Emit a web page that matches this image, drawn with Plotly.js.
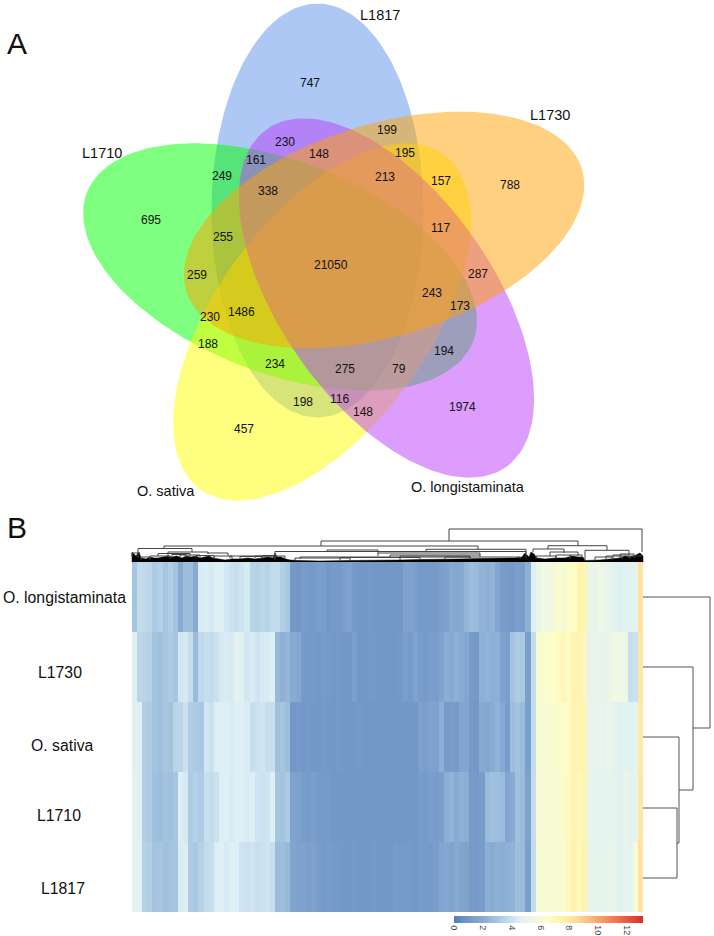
<!DOCTYPE html>
<html>
<head>
<meta charset="utf-8">
<script src="https://cdn.plot.ly/plotly-3.0.1.min.js"></script>
<style>html,body{margin:0;padding:0;background:#fff}</style>
</head>
<body>
<div id="chart" style="width:714px;height:936px"></div>
<script>
// ---- Venn data ----
const setNames = ["L1817","L1710","O. sativa","O. longistaminata","L1730"];
const setColors = ["rgba(91,145,235,0.5)","rgba(0,255,0,0.5)","rgba(255,255,0,0.5)","rgba(187,59,249,0.5)","rgba(255,161,0,0.5)"];
const setCx = [317.5,280,322,386.5,384];
const setCy = [210.5,267,322,298,230];
const setAngle = [90,21,-54,54.7,-17.2];
const setA = 207;
const setB = 106;
const setLabelX = [380,102,166,468,550];
const setLabelY = [15,153,491,487,115];

const countText = ["747","230","148","161","249","338","199","195","213","157","788","117","695","255","21050","259","287","243","173","1486","230","188","234","275","79","194","198","116","148","1974","457"];
const countX = [310,285,319,256,222,268,387,405,385,441,510,440,151,223,331,197,478,432,460,241,210,208,275,345,399,444,303,339,363,462,244];
const countY = [83,142,154,160,176,191,130,153,177,181,185,228,220,237,265,275,274,293,306,312,317,344,364,369,369,351,402,399,412,407,429];

// ---- Heatmap data ----
const rowNames = ["O. longistaminata","L1730","O. sativa","L1710","L1817"];
const rowLabelX = [64,60,62,59,63];
const rowLabelY = [597,672,745,815,888];
const rowLongistaminata = [3.0,3.8,3.7,3.6,3.2,3.4,3.0,3.3,2.9,2.0,2.7,2.7,1.9,4.4,4.5,4.3,4.5,4.6,4.2,4.0,3.9,4.1,4.3,3.5,3.4,3.6,3.5,3.8,3.8,3.3,3.1,1.1,1.0,1.3,1.2,1.1,1.4,1.3,1.0,1.2,1.1,1.4,1.5,1.1,1.0,1.0,1.1,1.0,1.0,1.0,1.0,1.0,1.0,1.6,1.5,1.4,1.1,1.2,1.1,1.2,1.4,1.5,1.9,1.8,1.9,2.4,2.7,2.6,2.3,2.2,2.3,1.8,1.3,1.2,1.1,1.4,1.3,2.2,4.6,5.2,5.7,5.5,5.9,6.2,6.0,6.4,6.5,7.4,7.3,5.2,5.1,5.4,5.3,5.0,4.8,4.6,4.7,4.8,4.9,8.2];
const rowL1730 = [4.7,3.6,3.5,3.4,2.9,2.8,3.0,3.2,3.0,4.2,4.3,3.9,2.6,3.7,3.9,3.8,4.0,4.3,4.4,4.3,4.9,4.7,4.2,4.4,4.1,4.3,4.4,4.6,2.5,2.2,2.4,2.0,1.8,1.2,1.1,1.1,1.0,1.2,1.1,1.0,1.1,1.0,1.0,1.4,1.0,1.0,1.1,1.1,1.0,1.0,1.0,1.0,1.1,1.4,1.2,1.5,1.3,1.2,1.4,1.3,1.6,2.1,1.9,2.2,2.0,1.8,1.2,1.1,2.2,2.3,2.1,2.2,1.5,1.4,2.9,3.2,3.1,1.4,3.8,6.1,6.3,6.2,6.5,6.7,7.0,6.6,7.3,7.2,7.0,5.0,5.2,5.1,5.0,5.3,5.6,5.5,5.4,3.9,4.0,8.0];
const rowSativa = [4.7,4.6,3.3,3.2,2.9,2.8,3.0,2.9,3.5,3.6,4.0,3.3,3.2,3.1,4.2,4.0,4.5,4.6,4.5,4.4,4.5,4.6,4.4,3.9,4.0,4.1,3.9,3.9,2.8,3.0,2.7,1.0,1.1,1.0,1.1,1.0,1.0,1.1,1.0,1.0,1.1,1.0,1.0,1.0,1.1,1.0,1.0,1.0,1.0,1.0,1.0,1.0,1.0,1.0,1.0,1.0,1.5,1.4,1.6,1.5,2.2,1.2,1.3,1.2,1.7,1.7,1.1,1.0,1.9,1.8,2.0,2.3,1.9,1.3,2.7,2.9,2.6,1.4,3.8,6.1,6.0,6.2,6.1,6.3,6.4,6.6,7.3,7.2,7.2,5.1,5.0,5.2,5.1,5.3,4.9,4.7,4.8,4.7,4.9,7.9];
const rowL1710 = [4.8,4.7,3.3,3.2,2.8,2.7,2.9,2.8,3.0,4.5,4.3,3.2,3.4,3.2,3.9,3.8,4.0,4.5,4.6,4.4,4.5,4.6,4.4,4.5,4.1,4.0,4.1,4.6,3.0,2.9,3.2,1.6,1.5,1.3,1.2,1.4,1.2,1.1,1.2,1.0,1.0,1.0,1.0,1.0,1.0,1.0,1.0,1.0,1.0,1.0,1.0,1.0,1.0,1.0,1.0,1.0,1.3,1.2,1.4,1.3,1.4,2.1,2.3,2.0,2.2,2.1,1.2,1.1,1.3,2.6,2.8,2.7,2.6,1.8,2.0,2.8,2.6,1.5,3.8,6.0,6.0,6.1,6.0,6.2,6.3,6.8,7.3,6.9,7.2,5.0,4.9,5.1,4.9,5.0,5.1,4.8,5.2,4.9,5.0,8.0];
const rowL1817 = [4.9,4.8,3.4,3.3,2.9,3.0,2.8,2.9,3.0,4.4,4.5,3.2,3.1,3.4,3.8,3.9,4.5,4.6,4.4,4.6,4.5,4.1,4.0,4.1,3.9,4.0,4.1,3.9,2.6,2.7,2.5,1.7,1.5,1.6,1.4,1.5,1.3,1.2,1.3,1.2,1.1,1.0,1.0,1.1,1.0,1.0,1.0,1.1,1.0,1.0,1.0,1.2,1.1,1.2,1.1,1.0,1.3,1.2,1.1,1.3,1.7,1.8,1.6,1.9,1.7,1.6,1.2,1.1,1.3,2.1,2.0,2.2,2.1,2.2,2.3,2.7,2.6,1.4,3.8,6.0,6.1,6.0,6.2,6.1,6.3,6.9,7.4,6.8,7.4,5.0,5.1,4.9,5.0,5.2,5.1,4.8,5.0,4.9,6.0,8.2];
const heatTicks = [0,2,4,6,8,10,12];
const heatMax = 13.1;
const heatStops = [[0,"#4f7fbb"],[1,"#7397c7"],[2,"#88abd3"],[3,"#a6c6e0"],[4.5,"#ddeff6"],[5.5,"#eef8e4"],[6.5,"#fdfdc6"],[7.4,"#fff3ae"],[8.5,"#ffdc97"],[10.5,"#f7915c"],[13.1,"#d73027"]];

// ---- Dendrograms (page coordinates) ----
const topLeft  = [449,321,164,138,132,168,158,208,275,426,327,378,390,300,548,533,550,585,613,630,230,255, 141,150,172,180,196,214,240,262, 295,340,400,445, 536,556,570, 595,606,620];
const topRight = [642,578,478,192,138,208,190,228,526,526,378,480,480,470,607,564,578,629,629,642,275,285, 150,170,186,200,214,232,262,274, 350,420,470,520, 556,570,582, 612,622,634];
const topY     = [529,541,546,548.5,553,552,553.5,553,551.5,549.3,550,553,555,557,545.7,549,552,550.3,555,556,556,556, 557,556,554.5,555,555.5,556,556.5,555.5, 558,557.5,556,557, 556,555,555, 557,556,554];
const topLeftBottom  = [541,546,548.5,553,557,556,556,554,560,552,552,556,558,559,549,552,556,560,558,559,558,558, 560,559,558,558,558,559,559,558, 560,560,560,559, 559,558,558, 560,559,558];
const topRightBottom = [552,546,549.5,552,558,554,556,556,553,558,553,555,557,559,550.3,553,556,555,558,556,558,558, 560,559,558,558,558,559,559,558, 560,560,560,559, 559,558,558, 560,559,558];
const baseX = [132,132,136,139,141,146,150,154,158,163,168,172,177,182,186,191,196,200,205,209,213,218,225,232,240,248,255,262,268,273,275,277,281,286,290,300,320,350,380,400,420,440,460,480,500,515,522,525,529,531,534,537,545,555,565,572,578,583,585,590,600,610,620,625,630,636,640,642,643,643];
const baseY = [562,552,556,552,558,559,557,558,558,557,556,557,556,558,556,557,556,558,557,556,558,559,560,559,559,558,559,558,557,558,553,557,557,559,560,560.5,561,560.5,560.5,560,559.5,559.5,559,558.5,558.5,558,557,553,557,552,554,558,559,558,558,556,557,557,560.5,560.5,560,559,558,556,557,555,553,555,556,562];

const rightLeafY = [597,667,737,808,878];
const rightLeafX = [710,693,679,677,677];
const rightSpineX = [710,693,679,677];
const rightSpineTop = [597,667,737,808];
const rightSpineBottom = [728,790,843,878];
const rightJoinY = [728,790,843];
const rightJoinLeft = [693,679,677];
const rightJoinRight = [710,693,679];

// ---- build traces ----
const traces = [];
const ts = [];
for (let i = 0; i <= 180; i++) ts.push(i * Math.PI / 90);
setNames.forEach((name, k) => {
  const th = setAngle[k] * Math.PI / 180;
  const xs = ts.map(t => setCx[k] + setA * Math.cos(t) * Math.cos(th) - setB * Math.sin(t) * Math.sin(th));
  const ys = ts.map(t => setCy[k] + setA * Math.cos(t) * Math.sin(th) + setB * Math.sin(t) * Math.cos(th));
  traces.push({type:"scatter",mode:"lines",x:xs,y:ys,fill:"toself",fillcolor:setColors[k],line:{width:0},hoverinfo:"skip",name:name});
});

traces.push({type:"heatmap",xaxis:"x2",yaxis:"y2",z:[rowLongistaminata,rowL1730,rowSativa,rowL1710,rowL1817],
  y:rowNames,zmin:0,zmax:heatMax,hoverinfo:"skip",
  colorscale:heatStops.map(s=>[s[0]/heatMax,s[1]]),
  colorbar:{orientation:"h",x:454/714,xanchor:"left",y:1-933/936,yanchor:"bottom",len:189/714,lenmode:"fraction",thickness:7,
    outlinewidth:0,xpad:0,ypad:0,tickvals:heatTicks,ticktext:heatTicks.map(String),tickangle:90,ticks:"",ticklabelposition:"outside bottom",
    tickfont:{family:"Liberation Sans, Arial, sans-serif",size:9,color:"#444"}}});

traces.push({type:"scatter",mode:"lines",x:baseX,y:baseY,fill:"toself",fillcolor:"#000",line:{width:0.5,color:"#000"},hoverinfo:"skip"});

const dx=[],dy=[];
topLeft.forEach((l,i)=>{dx.push(l,l,topRight[i],topRight[i],null);dy.push(topLeftBottom[i],topY[i],topY[i],topRightBottom[i],null);});
traces.push({type:"scatter",mode:"lines",x:dx,y:dy,line:{width:1,color:"#444"},hoverinfo:"skip"});

const rx=[],ry=[];
rightLeafY.forEach((y,i)=>{rx.push(643,rightLeafX[i],null);ry.push(y,y,null);});
rightSpineX.forEach((x,i)=>{rx.push(x,x,null);ry.push(rightSpineTop[i],rightSpineBottom[i],null);});
rightJoinY.forEach((y,i)=>{rx.push(rightJoinLeft[i],rightJoinRight[i],null);ry.push(y,y,null);});
traces.push({type:"scatter",mode:"lines",x:rx,y:ry,line:{width:1,color:"#555"},hoverinfo:"skip"});

// ---- text ----
const font = "Liberation Sans, Arial, sans-serif";
const annotations = [];
const note = (x,y,text,size) => annotations.push({xref:"x",yref:"y",x:x,y:y,text:text,showarrow:false,xanchor:"center",yanchor:"middle",font:{family:font,size:size,color:"#111"}});
countText.forEach((t,i)=>note(countX[i],countY[i],t,12));
setNames.forEach((t,i)=>note(setLabelX[i],setLabelY[i],t,14.5));
rowNames.forEach((t,i)=>note(rowLabelX[i],rowLabelY[i],t,15.8));
note(17,43,"A",30);
note(17,527,"B",30);

const layout = {
  width:714,height:936,margin:{l:0,r:0,t:0,b:0},paper_bgcolor:"#fff",plot_bgcolor:"rgba(0,0,0,0)",showlegend:false,
  xaxis:{domain:[0,1],range:[0,714],visible:false,fixedrange:true},
  yaxis:{domain:[0,1],range:[936,0],visible:false,fixedrange:true},
  xaxis2:{domain:[132/714,643/714],range:[-0.5,99.5],visible:false,anchor:"y2",fixedrange:true},
  yaxis2:{domain:[1-912/936,1-562/936],autorange:"reversed",visible:false,anchor:"x2",fixedrange:true},
  annotations:annotations
};
Plotly.newPlot("chart",traces,layout,{staticPlot:true,displayModeBar:false});
</script>
</body>
</html>
